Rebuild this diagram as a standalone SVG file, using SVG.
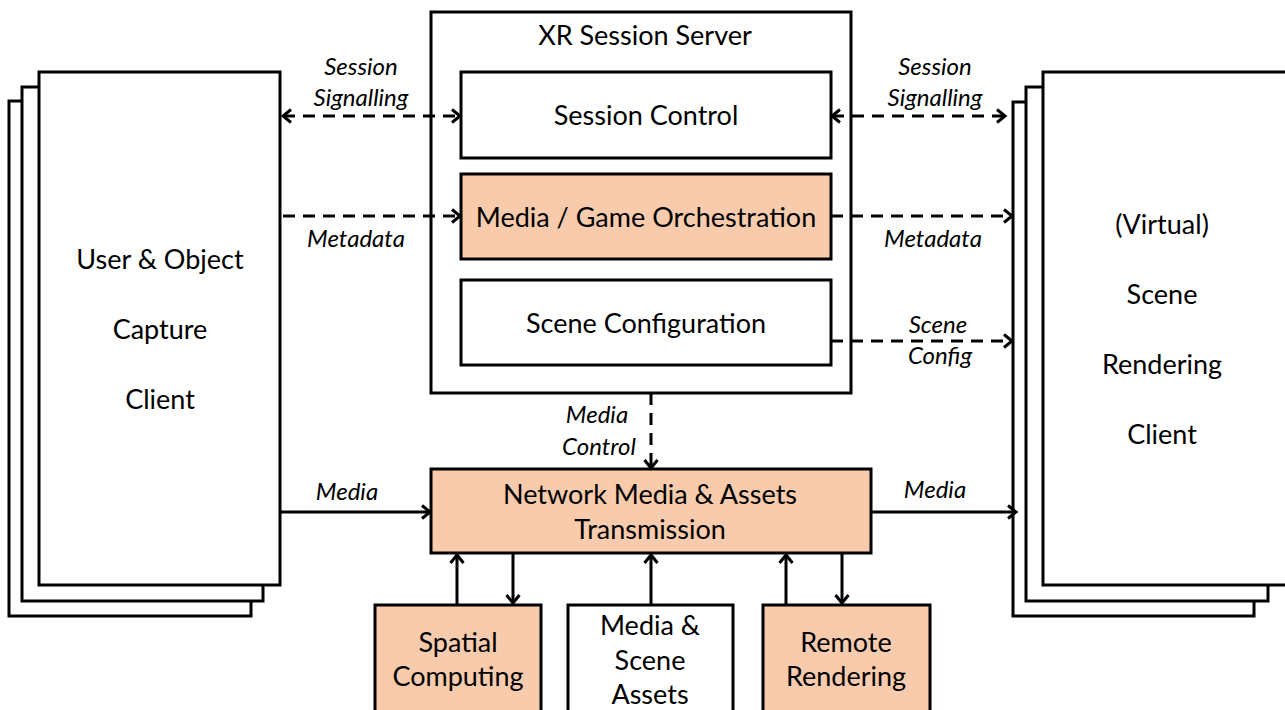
<svg xmlns="http://www.w3.org/2000/svg" width="1285" height="710" viewBox="0 0 1285 710">
<style>
.box{fill:#fff;stroke:#000;stroke-width:3}
.peach{fill:#F8CBAD;stroke:#000;stroke-width:3}
.t{font-family:Lato,"Open Sans",sans-serif;font-size:27px;fill:#000;text-anchor:middle}
.lab{font-family:Lato,"Open Sans",sans-serif;font-size:24px;font-style:italic;fill:#000;text-anchor:middle}
.sol{stroke:#000;stroke-width:3;fill:none}
.dash{stroke:#000;stroke-width:3;fill:none;stroke-dasharray:12 8}
</style>
<defs>
<marker id="ah" markerUnits="userSpaceOnUse" markerWidth="16" markerHeight="16" refX="11" refY="8" orient="auto-start-reverse" viewBox="0 0 16 16">
<path d="M3,1.5 L11,8 L3,14.5" fill="none" stroke="#000" stroke-width="3" stroke-dasharray="none"/>
</marker>
</defs>
<g id="capture-client">
<rect class="box" x="9" y="101" width="242" height="515"/>
<rect class="box" x="22" y="87" width="241" height="514"/>
<rect class="box" x="39" y="72" width="241" height="513"/>
<text class="t" x="160" y="269">User &amp; Object</text>
<text class="t" x="160" y="339">Capture</text>
<text class="t" x="160" y="409">Client</text>
</g>
<g id="rendering-client">
<rect class="box" x="1013" y="102" width="241" height="514"/>
<rect class="box" x="1026" y="87" width="242" height="514"/>
<rect class="box" x="1043" y="72" width="245" height="513"/>
<text class="t" x="1162" y="234">(Virtual)</text>
<text class="t" x="1162" y="304">Scene</text>
<text class="t" x="1162" y="374">Rendering</text>
<text class="t" x="1162" y="444">Client</text>
</g>
<g id="xr-session-server">
<rect class="box" x="431" y="12" width="420" height="381"/>
<text class="t" x="645" y="45">XR Session Server</text>
</g>
<g id="session-control">
<rect class="box" x="461" y="72" width="370" height="86"/>
<text class="t" x="646" y="125">Session Control</text>
</g>
<g id="media-game-orchestration">
<rect class="peach" x="461" y="174" width="370" height="85"/>
<text class="t" x="646" y="227">Media / Game Orchestration</text>
</g>
<g id="scene-configuration">
<rect class="box" x="461" y="280" width="370" height="85"/>
<text class="t" x="646" y="333">Scene Configuration</text>
</g>
<g id="network-media">
<rect class="peach" x="431" y="469" width="440" height="84"/>
<text class="t" x="650" y="504">Network Media &amp; Assets</text>
<text class="t" x="650" y="539">Transmission</text>
</g>
<g id="spatial-computing">
<rect class="peach" x="375" y="605" width="166" height="115"/>
<text class="t" x="458" y="652">Spatial</text>
<text class="t" x="458" y="686">Computing</text>
</g>
<g id="media-scene-assets">
<rect class="box" x="568" y="605" width="165" height="115"/>
<text class="t" x="650" y="635">Media &amp;</text>
<text class="t" x="650" y="670">Scene</text>
<text class="t" x="650" y="704">Assets</text>
</g>
<g id="remote-rendering">
<rect class="peach" x="763" y="605" width="167" height="115"/>
<text class="t" x="846" y="652">Remote</text>
<text class="t" x="846" y="686">Rendering</text>
</g>
<g id="connectors">
<line class="dash" x1="283" y1="116" x2="460" y2="116" marker-start="url(#ah)" marker-end="url(#ah)"/>
<line class="dash" x1="832" y1="116" x2="1005" y2="116" marker-start="url(#ah)" marker-end="url(#ah)"/>
<line class="dash" x1="283" y1="216" x2="460" y2="216" marker-end="url(#ah)"/>
<line class="dash" x1="831" y1="216" x2="1012" y2="216" marker-end="url(#ah)"/>
<line class="dash" x1="831" y1="341" x2="1012" y2="341" marker-end="url(#ah)"/>
<line class="dash" x1="651" y1="393" x2="651" y2="468" marker-end="url(#ah)"/>
<line class="sol" x1="280" y1="512" x2="430" y2="512" marker-end="url(#ah)"/>
<line class="sol" x1="871" y1="512" x2="1016" y2="512" marker-end="url(#ah)"/>
<line class="sol" x1="457" y1="605" x2="457" y2="555" marker-end="url(#ah)"/>
<line class="sol" x1="513" y1="553" x2="513" y2="603" marker-end="url(#ah)"/>
<line class="sol" x1="651" y1="605" x2="651" y2="555" marker-end="url(#ah)"/>
<line class="sol" x1="786" y1="605" x2="786" y2="555" marker-end="url(#ah)"/>
<line class="sol" x1="842" y1="553" x2="842" y2="603" marker-end="url(#ah)"/>
<text class="lab" x="361" y="75">Session</text>
<text class="lab" x="361" y="106">Signalling</text>
<text class="lab" x="935" y="75">Session</text>
<text class="lab" x="935" y="106">Signalling</text>
<text class="lab" x="356" y="247">Metadata</text>
<text class="lab" x="933" y="247">Metadata</text>
<text class="lab" x="938" y="333">Scene</text>
<text class="lab" x="940" y="364">Config</text>
<text class="lab" x="597" y="423">Media</text>
<text class="lab" x="599" y="455">Control</text>
<text class="lab" x="347" y="500">Media</text>
<text class="lab" x="935" y="498">Media</text>
</g>
</svg>
